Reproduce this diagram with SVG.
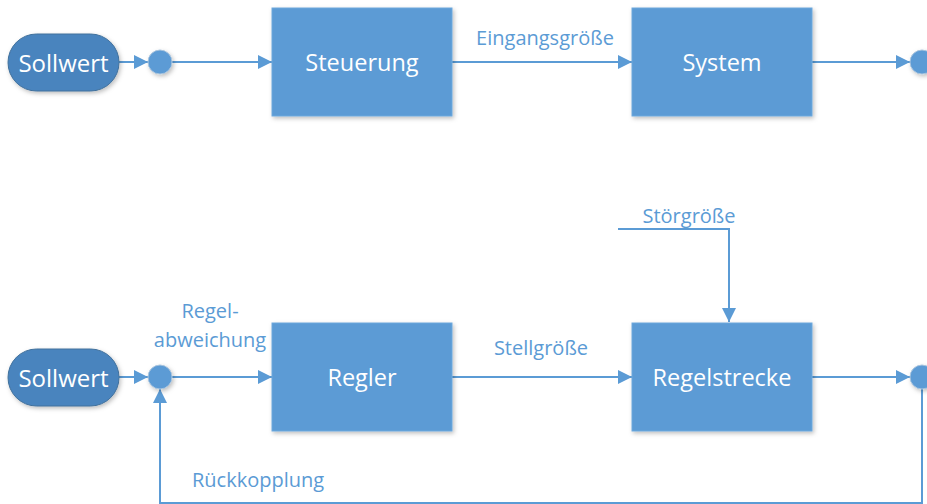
<svg xmlns="http://www.w3.org/2000/svg" width="927" height="504" viewBox="0 0 927 504">
<defs>
<filter id="sh" x="-20%" y="-20%" width="150%" height="150%">
<feDropShadow dx="1.5" dy="2" stdDeviation="2" flood-color="#000" flood-opacity="0.25"/>
</filter>
<marker id="ar" viewBox="0 0 10 10" refX="10" refY="5" markerWidth="14" markerHeight="14" markerUnits="userSpaceOnUse" orient="auto">
<path d="M0,0 L10,5 L0,10 Z" fill="#5B9BD5"/>
</marker>
<style>
.box{fill:#5B9BD5;stroke:#6FA8DC;stroke-width:1;filter:url(#sh)}
.pill{fill:#4A84BE;stroke:#41719C;stroke-width:1;filter:url(#sh)}
.dot{fill:#5B9BD5;stroke:#A9C4DE;stroke-width:1;filter:url(#sh)}
.wt{font-family:"Open Sans","Liberation Sans",sans-serif;font-size:23.5px;fill:#fff;text-anchor:middle;dominant-baseline:central}
.pt{font-size:24px}
.lb{font-family:"Open Sans","Liberation Sans",sans-serif;font-size:20px;fill:#5B9BD5}
.ln{fill:none;stroke:#5B9BD5;stroke-width:2}
</style>
</defs>
<g id="connectors">
<line class="ln" x1="119" y1="62" x2="148" y2="62" marker-end="url(#ar)"/>
<line class="ln" x1="172" y1="62" x2="272" y2="62" marker-end="url(#ar)"/>
<line class="ln" x1="452" y1="62" x2="632" y2="62" marker-end="url(#ar)"/>
<line class="ln" x1="812" y1="62" x2="910" y2="62" marker-end="url(#ar)"/>
<line class="ln" x1="119" y1="377" x2="148" y2="377" marker-end="url(#ar)"/>
<line class="ln" x1="172" y1="377" x2="272" y2="377" marker-end="url(#ar)"/>
<line class="ln" x1="452" y1="377" x2="632" y2="377" marker-end="url(#ar)"/>
<line class="ln" x1="812" y1="377" x2="910" y2="377" marker-end="url(#ar)"/>
<polyline class="ln" points="618,229 729,229 729,322" marker-end="url(#ar)"/>
<polyline class="ln" points="922,389 922,503 160,503 160,389" marker-end="url(#ar)"/>
</g>
<g id="sollwert1"><rect class="pill" x="8" y="34" width="111" height="57" rx="28.5"/><text class="wt pt" x="63.5" y="62.5">Sollwert</text></g>
<g id="dot1"><circle class="dot" cx="160" cy="62" r="12"/></g>
<g id="steuerung"><rect class="box" x="272" y="8" width="180" height="108"/><text class="wt" x="362" y="62">Steuerung</text></g>
<g id="system"><rect class="box" x="632" y="8" width="180" height="108"/><text class="wt" x="722" y="62">System</text></g>
<g id="dot2"><circle class="dot" cx="922" cy="62" r="12"/></g>
<g id="sollwert2"><rect class="pill" x="8" y="349" width="111" height="57" rx="28.5"/><text class="wt pt" x="63.5" y="377.5">Sollwert</text></g>
<g id="dot3"><circle class="dot" cx="160" cy="377" r="12"/></g>
<g id="regler"><rect class="box" x="272" y="323" width="180" height="108"/><text class="wt" x="362" y="377">Regler</text></g>
<g id="regelstrecke"><rect class="box" x="632" y="323" width="180" height="108"/><text class="wt" x="722" y="377">Regelstrecke</text></g>
<g id="dot4"><circle class="dot" cx="922" cy="377" r="12"/></g>
<g id="labels">
<text class="lb" x="545" y="45" text-anchor="middle">Eingangsgröße</text>
<text class="lb" x="541" y="355" text-anchor="middle">Stellgröße</text>
<text class="lb" x="689" y="223" text-anchor="middle">Störgröße</text>
<text class="lb" x="210" y="318" text-anchor="middle">Regel-</text>
<text class="lb" x="210" y="347" text-anchor="middle">abweichung</text>
<text class="lb" x="192" y="487">Rückkopplung</text>
</g>
</svg>
